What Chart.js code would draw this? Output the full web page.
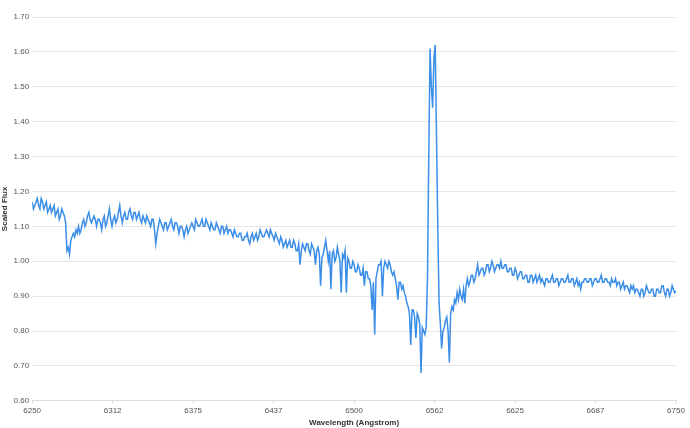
<!DOCTYPE html>
<html>
<head>
<meta charset="utf-8">
<script src="https://cdn.jsdelivr.net/npm/chart.js@4/dist/chart.umd.min.js"></script>
<style>
    html, body { margin: 0; padding: 0; background: #fff; }
    #spectrum-wrap { width: 690px; height: 428px; }
</style>
</head>
<body>
<div id="spectrum-wrap"><canvas id="spectrum-chart" width="690" height="428"></canvas></div>
<script>
// wavelength grid (Angstrom), one row of ten per line
const wavelengths = [
    6250, 6251, 6252, 6253, 6254, 6255, 6256, 6257, 6258, 6259,
    6260, 6261, 6262, 6263, 6264, 6265, 6266, 6267, 6268, 6269,
    6270, 6271, 6272, 6273, 6274, 6275, 6276, 6277, 6278, 6279,
    6280, 6281, 6282, 6283, 6284, 6285, 6286, 6287, 6288, 6289,
    6290, 6291, 6292, 6293, 6294, 6295, 6296, 6297, 6298, 6299,
    6300, 6301, 6302, 6303, 6304, 6305, 6306, 6307, 6308, 6309,
    6310, 6311, 6312, 6313, 6314, 6315, 6316, 6317, 6318, 6319,
    6320, 6321, 6322, 6323, 6324, 6325, 6326, 6327, 6328, 6329,
    6330, 6331, 6332, 6333, 6334, 6335, 6336, 6337, 6338, 6339,
    6340, 6341, 6342, 6343, 6344, 6345, 6346, 6347, 6348, 6349,
    6350, 6351, 6352, 6353, 6354, 6355, 6356, 6357, 6358, 6359,
    6360, 6361, 6362, 6363, 6364, 6365, 6366, 6367, 6368, 6369,
    6370, 6371, 6372, 6373, 6374, 6375, 6376, 6377, 6378, 6379,
    6380, 6381, 6382, 6383, 6384, 6385, 6386, 6387, 6388, 6389,
    6390, 6391, 6392, 6393, 6394, 6395, 6396, 6397, 6398, 6399,
    6400, 6401, 6402, 6403, 6404, 6405, 6406, 6407, 6408, 6409,
    6410, 6411, 6412, 6413, 6414, 6415, 6416, 6417, 6418, 6419,
    6420, 6421, 6422, 6423, 6424, 6425, 6426, 6427, 6428, 6429,
    6430, 6431, 6432, 6433, 6434, 6435, 6436, 6437, 6438, 6439,
    6440, 6441, 6442, 6443, 6444, 6445, 6446, 6447, 6448, 6449,
    6450, 6451, 6452, 6453, 6454, 6455, 6456, 6457, 6458, 6459,
    6460, 6461, 6462, 6463, 6464, 6465, 6466, 6467, 6468, 6469,
    6470, 6471, 6472, 6473, 6474, 6475, 6476, 6477, 6478, 6479,
    6480, 6481, 6482, 6483, 6484, 6485, 6486, 6487, 6488, 6489,
    6490, 6491, 6492, 6493, 6494, 6495, 6496, 6497, 6498, 6499,
    6500, 6501, 6502, 6503, 6504, 6505, 6506, 6507, 6508, 6509,
    6510, 6511, 6512, 6513, 6514, 6515, 6516, 6517, 6518, 6519,
    6520, 6521, 6522, 6523, 6524, 6525, 6526, 6527, 6528, 6529,
    6530, 6531, 6532, 6533, 6534, 6535, 6536, 6537, 6538, 6539,
    6540, 6541, 6542, 6543, 6544, 6545, 6546, 6547, 6548, 6549,
    6550, 6551, 6552, 6553, 6554, 6555, 6556, 6557, 6558, 6559,
    6560, 6561, 6562, 6563, 6564, 6565, 6566, 6567, 6568, 6569,
    6570, 6571, 6572, 6573, 6574, 6575, 6576, 6577, 6578, 6579,
    6580, 6581, 6582, 6583, 6584, 6585, 6586, 6587, 6588, 6589,
    6590, 6591, 6592, 6593, 6594, 6595, 6596, 6597, 6598, 6599,
    6600, 6601, 6602, 6603, 6604, 6605, 6606, 6607, 6608, 6609,
    6610, 6611, 6612, 6613, 6614, 6615, 6616, 6617, 6618, 6619,
    6620, 6621, 6622, 6623, 6624, 6625, 6626, 6627, 6628, 6629,
    6630, 6631, 6632, 6633, 6634, 6635, 6636, 6637, 6638, 6639,
    6640, 6641, 6642, 6643, 6644, 6645, 6646, 6647, 6648, 6649,
    6650, 6651, 6652, 6653, 6654, 6655, 6656, 6657, 6658, 6659,
    6660, 6661, 6662, 6663, 6664, 6665, 6666, 6667, 6668, 6669,
    6670, 6671, 6672, 6673, 6674, 6675, 6676, 6677, 6678, 6679,
    6680, 6681, 6682, 6683, 6684, 6685, 6686, 6687, 6688, 6689,
    6690, 6691, 6692, 6693, 6694, 6695, 6696, 6697, 6698, 6699,
    6700, 6701, 6702, 6703, 6704, 6705, 6706, 6707, 6708, 6709,
    6710, 6711, 6712, 6713, 6714, 6715, 6716, 6717, 6718, 6719,
    6720, 6721, 6722, 6723, 6724, 6725, 6726, 6727, 6728, 6729,
    6730, 6731, 6732, 6733, 6734, 6735, 6736, 6737, 6738, 6739,
    6740, 6741, 6742, 6743, 6744, 6745, 6746, 6747, 6748, 6749,
    6750
];

// scaled flux, same rows as above
const scaled_flux = [
    1.17, 1.15, 1.16, 1.17, 1.18, 1.16, 1.15, 1.18, 1.17, 1.15,
    1.16, 1.17, 1.14, 1.15, 1.16, 1.14, 1.15, 1.16, 1.13, 1.14,
    1.15, 1.12, 1.13, 1.15, 1.14, 1.13, 1.11, 1.03, 1.04, 1.02,
    1.06, 1.07, 1.08, 1.07, 1.09, 1.08, 1.10, 1.08, 1.09, 1.11,
    1.12, 1.10, 1.11, 1.13, 1.14, 1.12, 1.11, 1.12, 1.13, 1.12,
    1.10, 1.12, 1.12, 1.11, 1.09, 1.12, 1.13, 1.10, 1.11, 1.13,
    1.15, 1.12, 1.10, 1.12, 1.13, 1.11, 1.12, 1.14, 1.16, 1.13,
    1.11, 1.13, 1.14, 1.12, 1.12, 1.14, 1.15, 1.13, 1.12, 1.14,
    1.14, 1.12, 1.13, 1.14, 1.12, 1.11, 1.13, 1.12, 1.11, 1.13,
    1.12, 1.11, 1.10, 1.12, 1.12, 1.09, 1.05, 1.08, 1.10, 1.12,
    1.11, 1.10, 1.09, 1.11, 1.11, 1.09, 1.10, 1.11, 1.12, 1.10,
    1.09, 1.11, 1.11, 1.10, 1.08, 1.10, 1.10, 1.09, 1.07, 1.09,
    1.10, 1.08, 1.09, 1.10, 1.11, 1.10, 1.09, 1.12, 1.11, 1.10,
    1.10, 1.11, 1.12, 1.10, 1.10, 1.12, 1.11, 1.10, 1.09, 1.11,
    1.10, 1.09, 1.09, 1.11, 1.10, 1.09, 1.08, 1.10, 1.10, 1.08,
    1.09, 1.10, 1.08, 1.09, 1.09, 1.08, 1.07, 1.09, 1.08, 1.07,
    1.07, 1.08, 1.08, 1.06, 1.06, 1.07, 1.07, 1.08, 1.06, 1.05,
    1.07, 1.08, 1.06, 1.07, 1.08, 1.06, 1.07, 1.09, 1.08, 1.07,
    1.07, 1.08, 1.09, 1.08, 1.07, 1.09, 1.08, 1.07, 1.06, 1.08,
    1.07, 1.06, 1.05, 1.07, 1.06, 1.04, 1.05, 1.06, 1.04, 1.05,
    1.06, 1.04, 1.04, 1.06, 1.05, 1.03, 1.03, 1.05, 0.99, 1.03,
    1.05, 1.04, 1.03, 1.05, 1.05, 1.03, 1.02, 1.05, 1.04, 1.03,
    0.99, 1.03, 1.04, 1.02, 0.93, 1.01, 1.02, 1.04, 1.06, 1.03,
    1.00, 1.03, 0.92, 1.02, 1.03, 1.00, 1.01, 1.04, 1.02, 1.00,
    0.91, 1.02, 1.01, 1.03, 0.91, 1.01, 1.00, 0.98, 0.98, 1.00,
    0.99, 0.97, 0.97, 0.99, 0.98, 0.96, 0.96, 0.98, 0.93, 0.97,
    0.97, 0.95, 0.95, 0.93, 0.86, 0.94, 0.79, 0.95, 0.97, 0.99,
    0.99, 1.00, 0.90, 0.98, 1.00, 0.99, 0.98, 1.00, 0.99, 0.97,
    0.96, 0.97, 0.95, 0.93, 0.89, 0.94, 0.94, 0.92, 0.93, 0.91,
    0.90, 0.88, 0.87, 0.85, 0.76, 0.86, 0.86, 0.84, 0.78, 0.85,
    0.84, 0.82, 0.68, 0.81, 0.80, 0.79, 0.81, 0.95, 1.30, 1.61,
    1.50, 1.44, 1.58, 1.62, 1.36, 1.10, 0.88, 0.82, 0.75, 0.80,
    0.81, 0.83, 0.84, 0.80, 0.71, 0.85, 0.87, 0.86, 0.89, 0.88,
    0.91, 0.89, 0.92, 0.90, 0.89, 0.92, 0.88, 0.93, 0.95, 0.93,
    0.94, 0.96, 0.96, 0.94, 0.95, 0.97, 0.99, 0.96, 0.97, 0.98,
    0.98, 0.96, 0.97, 0.99, 0.99, 0.97, 0.98, 1.00, 0.99, 0.97,
    0.98, 0.99, 0.99, 0.98, 1.00, 0.98, 0.98, 0.99, 0.99, 0.97,
    0.97, 0.98, 0.98, 0.96, 0.96, 0.98, 0.97, 0.95, 0.96, 0.97,
    0.97, 0.95, 0.95, 0.96, 0.96, 0.94, 0.94, 0.96, 0.96, 0.94,
    0.95, 0.96, 0.94, 0.95, 0.96, 0.94, 0.95, 0.94, 0.93, 0.95,
    0.95, 0.94, 0.94, 0.95, 0.96, 0.94, 0.94, 0.95, 0.95, 0.93,
    0.94, 0.95, 0.95, 0.94, 0.94, 0.95, 0.96, 0.94, 0.94, 0.95,
    0.95, 0.93, 0.94, 0.95, 0.93, 0.94, 0.92, 0.94, 0.94, 0.95,
    0.95, 0.94, 0.94, 0.95, 0.95, 0.93, 0.94, 0.95, 0.95, 0.94,
    0.94, 0.95, 0.96, 0.94, 0.94, 0.95, 0.95, 0.94, 0.94, 0.93,
    0.95, 0.94, 0.94, 0.95, 0.93, 0.94, 0.94, 0.92, 0.93, 0.94,
    0.92, 0.93, 0.93, 0.92, 0.91, 0.93, 0.92, 0.93, 0.91, 0.92,
    0.92, 0.91, 0.90, 0.92, 0.92, 0.90, 0.91, 0.93, 0.92, 0.91,
    0.91, 0.92, 0.92, 0.90, 0.90, 0.92, 0.92, 0.91, 0.91, 0.93,
    0.93, 0.91, 0.90, 0.92, 0.92, 0.90, 0.91, 0.93, 0.92, 0.91,
    0.915
];

const x_ticks = [6250, 6312.5, 6375, 6437.5, 6500, 6562.5, 6625, 6687.5, 6750];
const y_ticks = [0.60, 0.70, 0.80, 0.90, 1.00, 1.10, 1.20, 1.30, 1.40, 1.50, 1.60, 1.70];

const tick_font = { family: "'Liberation Sans', Arial, sans-serif", size: 8 };
const title_font = { family: "'Liberation Sans', Arial, sans-serif", size: 8, weight: "bold" };

const ctx = document.getElementById("spectrum-chart").getContext("2d");

const spectrumChart = new Chart(ctx, {
    type: "line",
    data: {
        datasets: [
            {
                label: "Scaled Flux",
                data: wavelengths.map((w, i) => ({ x: w, y: scaled_flux[i] })),
                borderColor: "#3b8ee8",
                borderWidth: 1.5,
                pointRadius: 0,
                tension: 0,
                fill: false,
            }
        ],
    },
    options: {
        responsive: false,
        animation: false,
        devicePixelRatio: 1,
        layout: { padding: { top: 17, right: 14, left: 0, bottom: 0 } },
        plugins: {
            legend: { display: false },
            tooltip: { enabled: false },
        },
        scales: {
            x: {
                type: "linear",
                min: 6250,
                max: 6750,
                afterBuildTicks: (axis) => { axis.ticks = x_ticks.map((v) => ({ value: v })); },
                ticks: {
                    color: "#555",
                    font: tick_font,
                    maxRotation: 0,
                    padding: 2,
                    callback: (value) => Math.floor(value),
                },
                grid: { drawOnChartArea: false, drawTicks: true, tickLength: 3, color: "#ddd" },
                border: { color: "#ddd" },
                title: { display: true, text: "Wavelength (Angstrom)", color: "#333", font: title_font, padding: { top: 1, bottom: 0 } },
            },
            y: {
                min: 0.6,
                max: 1.7,
                afterBuildTicks: (axis) => { axis.ticks = y_ticks.map((v) => ({ value: v })); },
                ticks: {
                    color: "#555",
                    font: tick_font,
                    padding: 3,
                    callback: (value) => value.toFixed(2),
                },
                grid: { color: "#e6e6e6", drawTicks: false },
                border: { display: false },
                title: { display: true, text: "Scaled Flux", color: "#333", font: title_font, padding: { top: 0, bottom: 1 } },
            }
        },
    },
});
</script>
</body>
</html>
